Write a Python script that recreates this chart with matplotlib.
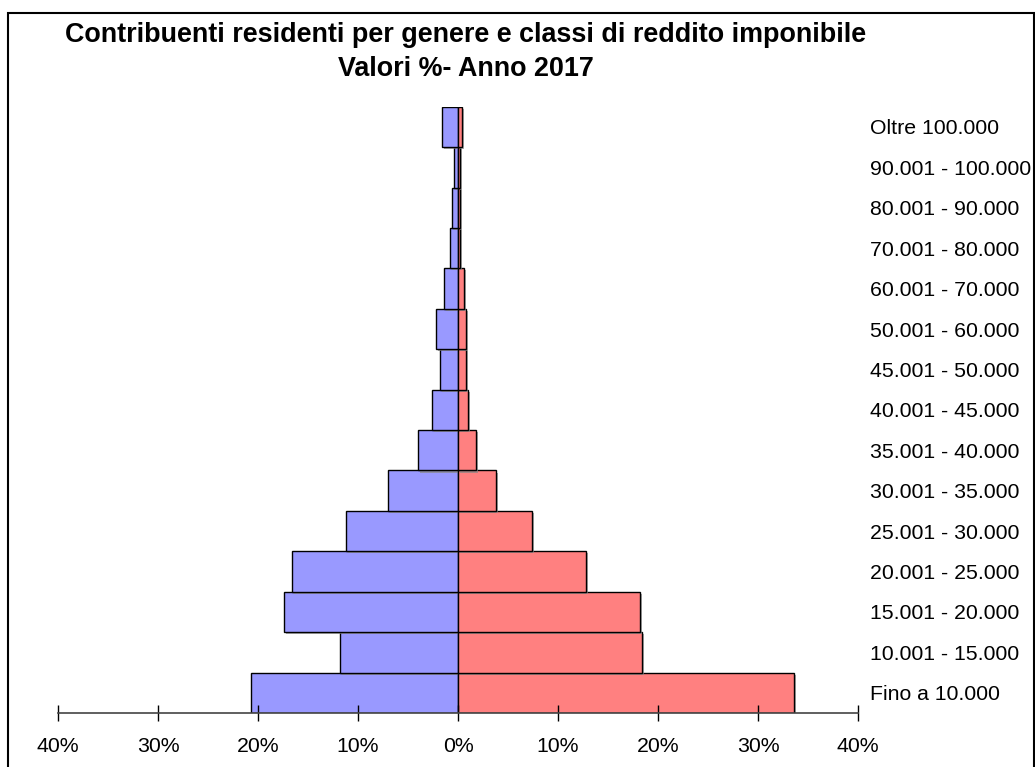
import matplotlib
matplotlib.use("Agg")
import matplotlib.pyplot as plt
from matplotlib.patches import Rectangle
from matplotlib.ticker import FuncFormatter
import matplotlib.patheffects as pe

plt.rcParams['font.family'] = ['Liberation Sans', 'DejaVu Sans']

categories = ["Fino a 10.000", "10.001 - 15.000", "15.001 - 20.000", "20.001 - 25.000",
              "25.001 - 30.000", "30.001 - 35.000", "35.001 - 40.000", "40.001 - 45.000",
              "45.001 - 50.000", "50.001 - 60.000", "60.001 - 70.000", "70.001 - 80.000",
              "80.001 - 90.000", "90.001 - 100.000", "Oltre 100.000"]
maschi = [20.7, 11.8, 17.4, 16.6, 11.2, 7.0, 4.0, 2.6, 1.8, 2.2, 1.4, 0.8, 0.65, 0.45, 1.6]
femmine = [33.6, 18.4, 18.2, 12.8, 7.4, 3.8, 1.8, 1.0, 0.8, 0.8, 0.55, 0.15, 0.15, 0.15, 0.4]
xticks = [-40, -30, -20, -10, 0, 10, 20, 30, 40]
title = "Contribuenti residenti per genere e classi di reddito imponibile\nValori %- Anno 2017"

W, H = 1035, 767
fig = plt.figure(figsize=(W / 100, H / 100), dpi=100)
fig.patch.set_facecolor('white')
x0, x1 = 58, 858
y0, y1 = 106.7, 713
ax = fig.add_axes([x0 / W, 1 - y1 / H, (x1 - x0) / W, (y1 - y0) / H])

shadow = [pe.SimplePatchShadow(offset=(1.5, -1.5), shadow_rgbFace='#888888', alpha=0.7), pe.Normal()]
ypos = list(range(len(categories)))
bl = ax.barh(ypos, [-v for v in maschi], height=1.0, color='#9999FF', edgecolor='black', linewidth=1.0)
br = ax.barh(ypos, femmine, height=1.0, color='#FF8080', edgecolor='black', linewidth=1.0)
for b in list(bl) + list(br):
    b.set_path_effects(shadow)

ax.set_xlim(-40, 40)
ax.set_ylim(-0.5, len(categories) - 0.5)
ax.set_xticks(xticks)
ax.xaxis.set_major_formatter(FuncFormatter(lambda v, p: f"{abs(int(round(v)))}%"))
ax.tick_params(axis='x', direction='inout', length=12, width=1, color='black',
               labelsize=15.3, pad=11)
ax.yaxis.tick_right()
ax.set_yticks(ypos)
ax.set_yticklabels(categories)
ax.tick_params(axis='y', length=0, labelsize=15.3, pad=9)
for s in ['top', 'left', 'right']:
    ax.spines[s].set_visible(False)
ax.spines['bottom'].set_color('#444444')
ax.spines['bottom'].set_linewidth(1.2)
ax.patch.set_alpha(0)

fig.text(466 / W, 1 - 52 / H, title, ha='center', va='center', fontsize=19.4,
         fontweight='bold', linespacing=1.45)

fig.add_artist(Rectangle((8 / W, -0.1), (1034 - 8) / W, 1 - 13 / H + 0.1, fill=False,
                         edgecolor='black', linewidth=1.5, transform=fig.transFigure))

fig.savefig("out.png", dpi=100)
